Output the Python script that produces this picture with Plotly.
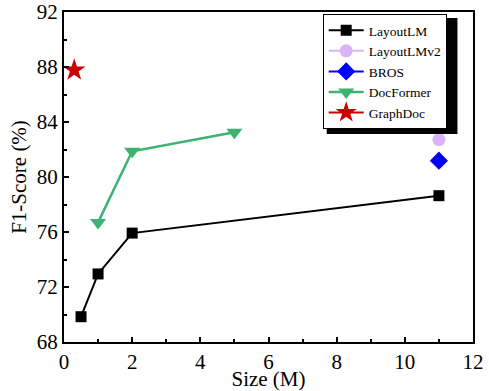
import plotly.graph_objects as go

layoutlm_x = [0.5, 1.0, 2.0, 11.0]
layoutlm_y = [69.84, 72.95, 75.92, 78.64]
layoutlmv2_x = [11.0]
layoutlmv2_y = [82.72]
bros_x = [11.0]
bros_y = [81.19]
docformer_x = [1.0, 2.0, 5.0]
docformer_y = [76.7, 81.87, 83.25]
graphdoc_x = [0.3]
graphdoc_y = [87.77]

FONT = "Times New Roman, Liberation Serif, serif"

fig = go.Figure()
fig.add_trace(go.Scatter(x=layoutlm_x, y=layoutlm_y, name="LayoutLM", mode="lines+markers",
                         line=dict(color="black", width=2),
                         marker=dict(symbol="square", size=11, color="black")))
fig.add_trace(go.Scatter(x=layoutlmv2_x, y=layoutlmv2_y, name="LayoutLMv2", mode="lines+markers",
                         line=dict(color="#d8b4f8", width=2),
                         marker=dict(symbol="circle", size=13, color="#d8b4f8")))
fig.add_trace(go.Scatter(x=bros_x, y=bros_y, name="BROS", mode="lines+markers",
                         line=dict(color="#0000ff", width=2),
                         marker=dict(symbol="diamond", size=14, color="#0000ff")))
fig.add_trace(go.Scatter(x=docformer_x, y=docformer_y, name="DocFormer", mode="lines+markers",
                         line=dict(color="#3cb371", width=2.5),
                         marker=dict(symbol="triangle-down", size=14, color="#3cb371")))
fig.add_trace(go.Scatter(x=graphdoc_x, y=graphdoc_y, name="GraphDoc", mode="lines+markers",
                         line=dict(color="#cc0000", width=2),
                         marker=dict(symbol="star", size=17, color="#cc0000")))

axis_common = dict(showline=True, linecolor="black", linewidth=2, mirror=True,
                   ticks="inside", ticklen=5, tickwidth=1.5, tickcolor="black",
                   showgrid=False, zeroline=False, automargin=False,
                   tickfont=dict(family=FONT, size=21, color="black"))

fig.update_xaxes(range=[0, 12], dtick=2, tick0=0,
                 minor=dict(ticks="inside", ticklen=3, dtick=1, tickcolor="black", tickwidth=1.5),
                 title=dict(text="Size (M)", font=dict(family=FONT, size=21, color="black"), standoff=2),
                 **axis_common)
fig.update_yaxes(range=[68, 92], dtick=4, tick0=68,
                 minor=dict(ticks="inside", ticklen=3, dtick=2, tickcolor="black", tickwidth=1.5),
                 title=dict(text="F1-Score (%)", font=dict(family=FONT, size=21, color="black"), standoff=4),
                 **axis_common)

# legend shadow (drawn under the legend, which sits in the top info layer)
fig.add_shape(type="rect", xref="paper", yref="paper",
              x0=0.6423, x1=0.962, y0=0.63, y1=0.9818,
              fillcolor="black", line=dict(width=0), layer="above")

fig.update_layout(
    width=489, height=391,
    margin=dict(l=64, r=16, t=12, b=49),
    plot_bgcolor="rgba(0,0,0,0)", paper_bgcolor="white",
    font=dict(family=FONT, size=13.5, color="black"),
    legend=dict(x=0.6325, y=0.9939, xanchor="left", yanchor="top",
                bgcolor="white", bordercolor="black", borderwidth=1,
                font=dict(family=FONT, size=13.5, color="black"),
                itemwidth=35, tracegroupgap=0),
)

fig.write_html("out.html", config={"displayModeBar": False},
               post_script="document.body.style.margin='0px';")
